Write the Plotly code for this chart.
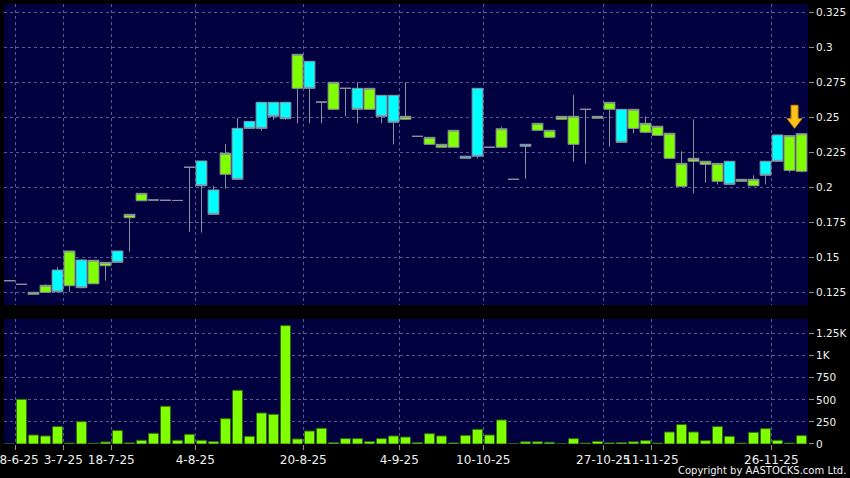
import plotly.graph_objects as go

# ---- data ----
idx = list(range(67))
opens = [.1333, .1307, .1236, .1250, .1409, .1297, .1481, .1311, .1440, .1545,
         .1783, .1904, .1909, .1907, .1906, .2143, .2188, .1981, .2093, .2421,
         .2471, .2607, .2607, .2607, .2707, .2900, .2609, .2557, .2707, .2707,
         .2557, .2657, .2657, .2486, .2364, .2307, .2286, .2286, .2222, .2707,
         .2286, .2286, .2057, .2307, .2407, .2357, .2486, .2307, .2557, .2493,
         .2557, .2557, .2421, .2393, .2371, .2207, .2007, .2186, .2164, .2043,
         .2186, .2043, .2011, .2186, .2374, .2121, .2114]
highs = [.1333, .1307, .1250, .1307, .1429, .1545, .1488, .1479, .1464, .1545,
         .1807, .1957, .1909, .1907, .1906, .2143, .2188, .2011, .2309, .2495,
         .2471, .2607, .2607, .2607, .2950, .2900, .2609, .2750, .2707, .2750,
         .2707, .2657, .2657, .2750, .2364, .2357, .2307, .2407, .2222, .2707,
         .2286, .2432, .2057, .2307, .2457, .2407, .2507, .2659, .2557, .2507,
         .2607, .2557, .2557, .2507, .2436, .2386, .2257, .2486, .2186, .2171,
         .2186, .2057, .2086, .2186, .2374, .2369, .2383]
lows = [.1333, .1307, .1236, .1250, .1247, .1254, .1283, .1311, .1333, .1464,
        .1540, .1904, .1909, .1907, .1906, .1683, .1676, .1807, .1990, .2057,
        .2421, .2404, .2483, .2483, .2457, .2457, .2457, .2557, .2507, .2457,
        .2557, .2457, .2307, .2486, .2364, .2307, .2286, .2286, .2207, .2207,
        .2286, .2286, .2057, .2061, .2407, .2357, .2486, .2183, .2169, .2493,
        .2290, .2321, .2386, .2386, .2371, .2207, .2007, .1957, .2033, .2021,
        .2021, .2043, .2011, .2021, .2186, .2107, .2107]
closes = [.1333, .1307, .1250, .1300, .1254, .1545, .1283, .1479, .1464, .1464,
          .1807, .1957, .1909, .1907, .1906, .2143, .2011, .1807, .2243, .2057,
          .2421, .2421, .2507, .2490, .2950, .2707, .2609, .2750, .2707, .2557,
          .2707, .2507, .2464, .2507, .2364, .2357, .2307, .2407, .2207, .2222,
          .2286, .2418, .2057, .2293, .2457, .2407, .2507, .2507, .2557, .2507,
          .2607, .2321, .2557, .2457, .2436, .2386, .2171, .2207, .2186, .2171,
          .2021, .2057, .2057, .2086, .2186, .2369, .2383]
volumes = [0, 506, 102, 91, 197, 10, 253, 8, 23, 152,
           12, 42, 121, 427, 42, 110, 42, 27, 287, 608,
           87, 351, 336, 1340, 57, 147, 178, 15, 61, 61,
           27, 61, 91, 79, 15, 117, 91, 12, 98, 166,
           102, 272, 5, 25, 25, 20, 2, 61, 10, 30,
           12, 15, 25, 38, 10, 136, 220, 136, 38, 197,
           87, 10, 132, 174, 42, 10, 95]

date_labels = ["18-6-25", "3-7-25", "18-7-25", "4-8-25", "20-8-25", "4-9-25",
               "10-10-25", "27-10-25", "11-11-25", "26-11-25"]
date_label_idx = [0, 4, 8, 15, 24, 32, 39, 49, 53, 63]

price_ticks = [0.125, 0.15, 0.175, 0.2, 0.225, 0.25, 0.275, 0.3, 0.325]
price_tick_text = ["0.125", "0.15", "0.175", "0.2", "0.225", "0.25", "0.275", "0.3", "0.325"]
vol_ticks = [0, 250, 500, 750, 1000, 1250]
vol_tick_text = ["0", "250", "500", "750", "1K", "1.25K"]

arrow_idx = 65

# ---- styling ----
BG = "#000000"
PLOT_BG = "#01013f"
GRID = "#5a5a96"
GREEN = "#7fff00"
CYAN = "#00ffff"
TXT = "#f0f0f0"
FONT = "DejaVu Sans"

grid_pos = [i + 0.48 for i in date_label_idx]

fig = go.Figure()
fig.add_trace(go.Candlestick(
    x=idx, open=opens, high=highs, low=lows, close=closes,
    increasing=dict(fillcolor=GREEN, line=dict(color="#8c8f9c", width=1)),
    decreasing=dict(fillcolor=CYAN, line=dict(color="#8c8f9c", width=1)),
    whiskerwidth=0, xaxis="x", yaxis="y", showlegend=False, hoverinfo="skip"))

fig.add_trace(go.Bar(
    x=idx, y=volumes, marker=dict(color=GREEN, line=dict(color="#2f6a10", width=1)),
    xaxis="x2", yaxis="y2", showlegend=False, hoverinfo="skip"))

# arrow marker above the candle
ax = arrow_idx + 0.42
tip = max(highs[arrow_idx], highs[arrow_idx + 1]) + 0.0038
head = tip + 0.0069
top = tip + 0.0165
hw, sw = 0.62, 0.29
path = (f"M {ax - sw} {top} L {ax + sw} {top} L {ax + sw} {head} L {ax + hw} {head} "
        f"L {ax} {tip} L {ax - hw} {head} L {ax - sw} {head} Z")
fig.add_shape(type="path", path=path, xref="x", yref="y",
              fillcolor="#ffc21a", line=dict(color="#c98a00", width=1))

xrange = [-0.458, 66.54]
common_x = dict(range=xrange, tickmode="array", tickvals=grid_pos, showgrid=True,
                gridcolor=GRID, griddash="3px,3px", gridwidth=1, zeroline=False,
                showline=False, fixedrange=True, automargin=False)

fig.update_layout(
    width=850, height=478,
    margin=dict(l=4, r=42, t=4, b=34, autoexpand=False),
    paper_bgcolor=BG, plot_bgcolor=PLOT_BG,
    font=dict(family=FONT, color=TXT, size=10),
    boxgap=0.1, boxgroupgap=0, bargap=0.16,
    xaxis=dict(**common_x, anchor="y", domain=[0, 1], showticklabels=False,
               ticks="", rangeslider=dict(visible=False)),
    xaxis2=dict(**common_x, anchor="y2", domain=[0, 1], ticktext=date_labels,
                showticklabels=True, ticks="outside", ticklen=5, tickcolor="#909090",
                tickangle=0, ticklabeloverflow="allow",
                tickfont=dict(family=FONT, size=12, color=TXT)),
    yaxis=dict(domain=[0.3159, 1], range=[0.11593, 0.33093], side="right",
               tickmode="array", tickvals=price_ticks, ticktext=price_tick_text,
               ticks="outside", ticklen=5, tickcolor="#909090", automargin=False,
               showgrid=True, gridcolor=GRID, griddash="3px,3px", zeroline=False,
               tickfont=dict(family=FONT, size=10.5, color=TXT), fixedrange=True),
    yaxis2=dict(domain=[0, 0.2841], range=[0, 1415], side="right", anchor="x2",
                tickmode="array", tickvals=vol_ticks, ticktext=vol_tick_text,
                ticks="outside", ticklen=5, tickcolor="#909090", automargin=False,
                showgrid=True, gridcolor=GRID, griddash="3px,3px", zeroline=False,
                tickfont=dict(family=FONT, size=10.5, color=TXT), fixedrange=True),
)

fig.add_annotation(text="Copyright by AASTOCKS.com Ltd.", xref="paper", yref="paper",
                   x=(848 - 4) / 804, y=(444 - 471) / 440, xanchor="right", yanchor="middle",
                   showarrow=False, font=dict(family=FONT, size=10, color=TXT))

fig.write_html("out.html", config={"displayModeBar": False},
               post_script="document.body.style.margin='0px';document.body.style.background='#000';")
